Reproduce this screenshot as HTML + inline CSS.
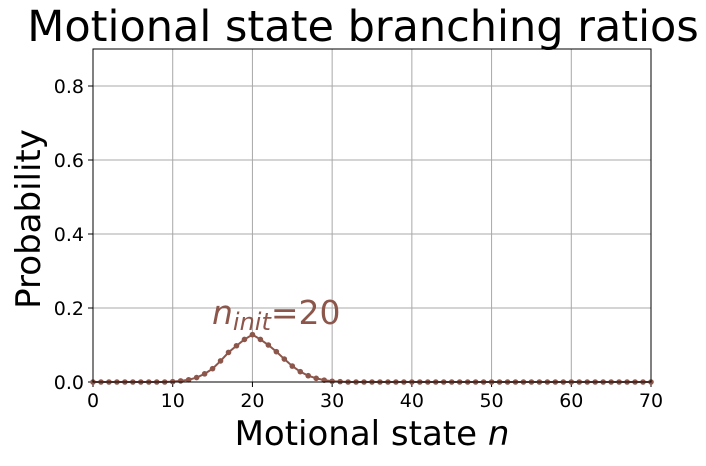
<!DOCTYPE html>
<html><head><meta charset="utf-8"><style>
body{margin:0;background:#fff;}
svg text{font-family:"DejaVu Sans","Liberation Sans",sans-serif;}
</style></head><body>
<svg id="c" width="706" height="461" xmlns="http://www.w3.org/2000/svg"></svg>
<script>
const xTicks=[0,10,20,30,40,50,60,70];
const yTicks=[0.0,0.2,0.4,0.6,0.8];
const yTickLabels=["0.0","0.2","0.4","0.6","0.8"];
const probs=[0,0,0,0,0,0,0,0,0,0,0.001,0.003,0.006,0.012,0.022,0.036,0.057,0.080,0.098,0.115,0.128,0.115,0.100,0.082,0.062,0.043,0.028,0.017,0.010,0.005,0.002,0.001,0,0,0,0,0,0,0,0,0,0,0,0,0,0,0,0,0,0,0,0,0,0,0,0,0,0,0,0,0,0,0,0,0,0,0,0,0,0,0];
const L=93,R=651,T=49,B=382;
const sx=v=>L+(v-0)/70*(R-L);
const sy=v=>B-(v/0.9)*(B-T);
const svg=document.getElementById('c');
const NS='http://www.w3.org/2000/svg';
function mk(t,a,txt){const e=document.createElementNS(NS,t);for(const k in a)e.setAttribute(k,a[k]);if(txt!==undefined)e.textContent=txt;svg.appendChild(e);return e;}
xTicks.forEach(v=>{
 const g=mk('line',{x1:sx(v),x2:sx(v),y1:T,y2:B,stroke:'#a8a8a8','stroke-width':1});
 
 const t=mk('line',{x1:sx(v),x2:sx(v),y1:B,y2:B+5,stroke:'#000','stroke-width':1});
 
 const l=mk('text',{x:sx(v),y:B+25,'font-size':19,'text-anchor':'middle'},String(v));
 
});
yTicks.forEach((v,i)=>{
 const g=mk('line',{x1:L,x2:R,y1:sy(v),y2:sy(v),stroke:'#a8a8a8','stroke-width':1});
 
 const t=mk('line',{x1:L-5,x2:L,y1:sy(v),y2:sy(v),stroke:'#000','stroke-width':1});
 
 const l=mk('text',{x:L-9,y:sy(v)+7,'font-size':19,'text-anchor':'end'},yTickLabels[i]);
 
});
const pts=probs.map((p,i)=>sx(i)+','+sy(p)).join(' ');
const pl=mk('polyline',{points:pts,fill:'none',stroke:'#8c564b','stroke-width':2});

probs.forEach((p,i)=>{
 const c=mk('circle',{cx:sx(i),cy:sy(p),r:2.8,fill:'#8c564b'});
 
});
const fr=mk('rect',{x:L,y:T,width:R-L,height:B-T,fill:'none',stroke:'#000','stroke-width':1});

</script>
<svg width="706" height="461" style="position:absolute;left:0;top:0" xmlns="http://www.w3.org/2000/svg">
<text x="363" y="41" font-size="43" text-anchor="middle">Motional state branching ratios</text>
<text x="372" y="445" font-size="34" text-anchor="middle">Motional state <tspan font-style="italic">n</tspan></text>
<text transform="translate(40,219) rotate(-90)" font-size="34" text-anchor="middle">Probability</text>
<text x="212" y="324" font-size="33" fill="#8c564b"><tspan font-style="italic">n</tspan><tspan font-style="italic" font-size="24" dy="6">init</tspan><tspan dy="-6">=20</tspan></text>
</svg>
</body></html>
